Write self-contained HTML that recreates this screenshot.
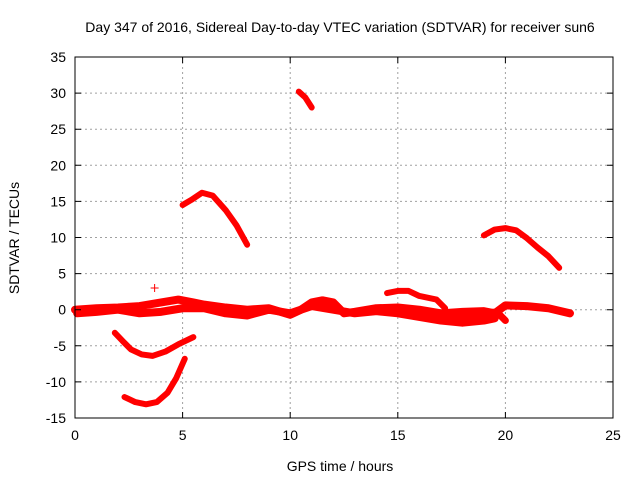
<!DOCTYPE html>
<html><head><meta charset="utf-8"><style>
body{margin:0;background:#fff}
svg{display:block;font-family:"Liberation Sans",sans-serif;font-size:14px}
</style></head><body>
<svg id="c" width="640" height="480"></svg>
<script>
const xTicks=[0,5,10,15,20,25];
const yTicks=[-15,-10,-5,0,5,10,15,20,25,30,35];
const seriesA=[[2.3,-12.1],[2.8,-12.8],[3.3,-13.1],[3.8,-12.8],[4.3,-11.5],[4.7,-9.5],[5.1,-6.8]];
const seriesB=[[1.85,-3.2],[2.2,-4.3],[2.6,-5.5],[3.1,-6.2],[3.6,-6.4],[4.2,-5.8],[4.8,-4.8],[5.5,-3.8]];
const seriesC=[[5.0,14.5],[5.4,15.2],[5.9,16.2],[6.4,15.8],[7.0,13.8],[7.5,11.7],[8.0,9.0]];
const seriesD=[[10.4,30.2],[10.7,29.4],[11.0,28.0]];
const seriesE=[[14.5,2.3],[15.0,2.6],[15.5,2.6],[16.0,1.9],[16.8,1.4],[17.2,0.2]];
const seriesF=[[19.0,10.3],[19.5,11.1],[20.0,11.3],[20.5,11.0],[21.0,9.9],[21.5,8.6],[22.0,7.4],[22.5,5.8]];
const band1=[[0,0],[1,0.2],[2,0.3],[3,0.5],[4,1],[4.8,1.4],[5.5,1],[6,0.7],[7,0.3],[8,0],[9,0.2],[10,-0.7],[10.5,0],[11,1],[11.5,1.3],[12,1],[12.5,-0.5],[13,-0.3],[14,0.2],[15,0.3],[16,0],[17,-0.5],[18,-0.3],[19,-0.2],[19.5,-0.5],[20,0.6],[21,0.5],[22,0.2],[23,-0.5]];
const band2=[[0.1,-0.5],[1,-0.3],[2,0],[3,-0.5],[4,-0.3],[5,0.2],[6,0.2],[7,-0.5],[8,-0.8],[9,0],[10,-0.5],[11,0.5],[12,0],[13,-0.5],[14,-0.2],[15,-0.5],[16,-1],[17,-1.5],[18,-1.8],[19,-1.5],[19.5,-1.2]];
const band3=[[16.5,-1],[17,-1.3],[18,-1.2],[19,-0.5],[19.6,-0.3],[20,-1.5]];
const outlier=[[3.7,3]];

const L=75,R=613,T=57,B=418;
const X=v=>L+(v-0)/25*(R-L);
const Y=v=>B-(v+15)/50*(B-T);
const svg=document.getElementById('c');
const NS='http://www.w3.org/2000/svg';
function mk(t,a,p){const e=document.createElementNS(NS,t);for(const k in a)e.setAttribute(k,a[k]);(p||svg).appendChild(e);return e;}
// grid
xTicks.forEach(v=>{if(v>0&&v<25){const g=mk('line',{x1:X(v),x2:X(v),y1:T,y2:B,stroke:'#a0a0a0','stroke-dasharray':'2,3'});

}});
yTicks.forEach(v=>{if(v>-15&&v<35){const g=mk('line',{x1:L,x2:R,y1:Y(v),y2:Y(v),stroke:'#a0a0a0','stroke-dasharray':'2,3'});

}});
// series
function poly(d,w,name){const p=mk('polyline',{points:d.map(q=>X(q[0])+','+Y(q[1])).join(' '),fill:'none',stroke:'#ff0000','stroke-width':w,'stroke-linejoin':'round','stroke-linecap':'round'});

}
poly(band1,8,'series-band-1');poly(band2,8,'series-band-2');poly(band3,7,'series-band-3');
poly(seriesA,6,'series-a');poly(seriesB,6,'series-b');poly(seriesC,6,'series-c');
poly(seriesD,6,'series-d');poly(seriesE,6,'series-e');poly(seriesF,6,'series-f');
outlier.forEach(q=>{const g=mk('path',{d:`M${X(q[0])-4},${Y(q[1])}h8M${X(q[0])},${Y(q[1])-4}v8`,stroke:'#ff0000','stroke-width':1});

});
// frame
const f=mk('rect',{x:L,y:T,width:R-L,height:B-T,fill:'none',stroke:'#000'});


xTicks.forEach(v=>{mk('path',{d:`M${X(v)},${B}v-6M${X(v)},${T}v6`,stroke:'#000'});
const t=mk('text',{x:X(v),y:B+22,'text-anchor':'middle'});t.textContent=v;

});
yTicks.forEach(v=>{mk('path',{d:`M${L},${Y(v)}h6M${R},${Y(v)}h-6`,stroke:'#000'});
const t=mk('text',{x:L-9,y:Y(v)+5,'text-anchor':'end'});t.textContent=v;

});
</script>
<script>
(function(){const s=document.getElementById('c');const NS='http://www.w3.org/2000/svg';
function tx(x,y,txt,name,rot){const e=document.createElementNS(NS,'text');e.setAttribute('x',x);e.setAttribute('y',y);e.setAttribute('text-anchor','middle');if(rot)e.setAttribute('transform',rot);e.textContent=txt;


s.appendChild(e);}
tx(340,32,'Day 347 of 2016, Sidereal Day-to-day VTEC variation (SDTVAR) for receiver sun6','chart-title');
tx(340,471,'GPS time / hours','x-axis-title');
tx(0,0,'SDTVAR / TECUs','y-axis-title','translate(19,238) rotate(-90)');
})();
</script>
</body></html>
